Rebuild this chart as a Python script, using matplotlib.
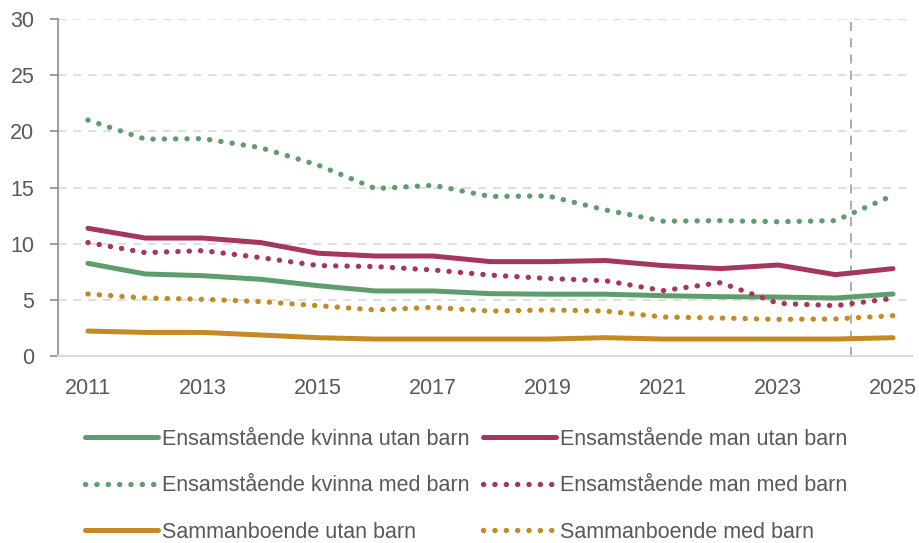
import matplotlib.pyplot as plt

years = list(range(2011, 2026))

kvinna_utan = [8.25, 7.3, 7.15, 6.83, 6.26, 5.79, 5.79, 5.55, 5.5, 5.5, 5.37, 5.28, 5.25, 5.16, 5.52]
man_utan = [11.37, 10.5, 10.5, 10.1, 9.15, 8.9, 8.9, 8.4, 8.4, 8.5, 8.05, 7.78, 8.1, 7.24, 7.78]
kvinna_med = [21.0, 19.3, 19.35, 18.55, 17.0, 14.9, 15.2, 14.2, 14.25, 13.0, 12.0, 12.05, 11.95, 12.05, 14.3]
man_med = [10.1, 9.2, 9.38, 8.76, 8.05, 7.96, 7.66, 7.2, 6.9, 6.7, 5.82, 6.53, 4.69, 4.48, 5.13]
samman_utan = [2.22, 2.1, 2.1, 1.87, 1.63, 1.51, 1.51, 1.51, 1.51, 1.63, 1.51, 1.51, 1.51, 1.51, 1.63]
samman_med = [5.52, 5.16, 5.05, 4.84, 4.48, 4.1, 4.33, 4.0, 4.1, 4.0, 3.47, 3.38, 3.26, 3.3, 3.59]

labels = [
    'Ensamstående kvinna utan barn', 'Ensamstående man utan barn',
    'Ensamstående kvinna med barn', 'Ensamstående man med barn',
    'Sammanboende utan barn', 'Sammanboende med barn',
]

green = '#5e9e6e'
red = '#a5365f'
gold = '#c48a23'
text_color = '#595959'
dots = (0, (0.05, 2.1))

plt.rcParams['font.family'] = ['Liberation Sans', 'DejaVu Sans']

fig = plt.figure(figsize=(9.19, 5.43), dpi=100)
ax = fig.add_axes([58 / 919, 1 - 356 / 543, (912 - 58) / 919, (356 - 19) / 543])

series = [
    (kvinna_utan, green, '-'),
    (man_utan, red, '-'),
    (kvinna_med, green, dots),
    (man_med, red, dots),
    (samman_utan, gold, '-'),
    (samman_med, gold, dots),
]

handles = []
for values, color, style in series:
    if style == '-':
        line, = ax.plot(years, values, color=color, lw=3.6, solid_capstyle='round', solid_joinstyle='round')
    else:
        line, = ax.plot(years, values, color=color, lw=3.8, linestyle=style, dash_capstyle='round')
    handles.append(line)

ax.axvline(2024.27, color='#a6a6a6', lw=1.3, linestyle=(0, (5, 4)), zorder=1)

ax.set_xlim(2010.48, 2025.33)
ax.set_ylim(0, 30)
ax.set_yticks(range(0, 31, 5))
ax.set_xticks(range(2011, 2026, 2))
ax.grid(axis='y', color='#d9d9d9', lw=1.2, linestyle=(0, (5, 4)))
ax.set_axisbelow(True)

for side in ['top', 'right']:
    ax.spines[side].set_visible(False)
ax.spines['left'].set_color('#8c8c8c')
ax.spines['left'].set_linewidth(1.2)
ax.spines['bottom'].set_color('#d9d9d9')
ax.spines['bottom'].set_linewidth(1.5)
ax.tick_params(axis='y', length=6, width=1.2, color='#8c8c8c', labelsize=15.5, labelcolor=text_color, pad=11)
ax.tick_params(axis='x', length=0, labelsize=15.5, labelcolor=text_color, pad=16)

order = [0, 2, 4, 1, 3, 5]
fig.legend([handles[i] for i in order], [labels[i] for i in order],
           ncol=2, loc='upper left', bbox_to_anchor=(85 / 919, 1 - 429 / 543),
           frameon=False, fontsize=15.5, labelcolor=text_color,
           borderpad=0, borderaxespad=0,
           handlelength=3.4, handletextpad=0.2, columnspacing=0.6, labelspacing=1.18)

fig.savefig('out.png', dpi=100)
